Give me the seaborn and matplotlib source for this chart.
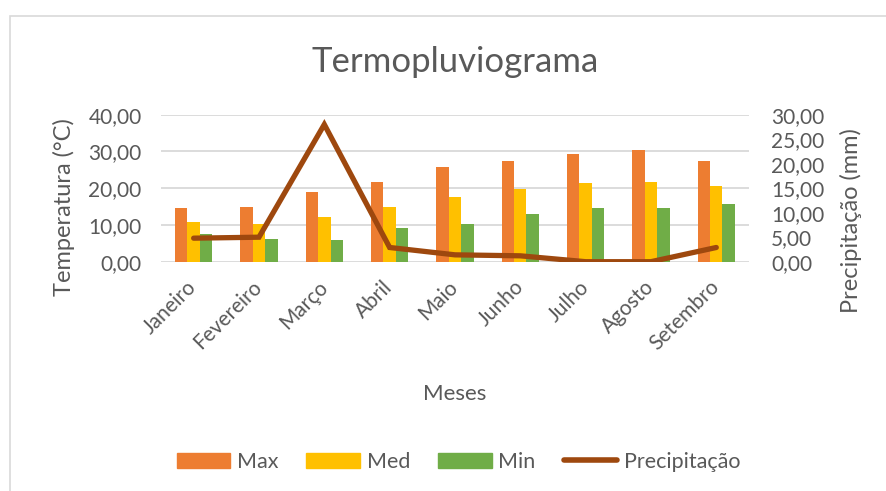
import matplotlib.pyplot as plt
import numpy as np
import pandas as pd
import seaborn as sns

meses = ["Janeiro", "Fevereiro", "Março", "Abril", "Maio", "Junho", "Julho", "Agosto", "Setembro"]
t_max = [14.6, 14.8, 19.0, 21.7, 25.8, 27.4, 29.4, 30.5, 27.5]
t_med = [10.7, 10.3, 12.1, 14.8, 17.6, 19.8, 21.5, 21.7, 20.6]
t_min = [7.5, 6.1, 6.0, 9.3, 10.3, 13.0, 14.5, 14.5, 15.7]
precip = [4.8, 5.0, 28.0, 2.9, 1.4, 1.2, 0.0, 0.0, 2.9]

cores = {"Max": "#ED7D31", "Med": "#FFC000", "Min": "#70AD47"}
cor_linha = "#9E480E"
cinza = "#595959"

df = pd.DataFrame({"Mes": meses, "Max": t_max, "Med": t_med, "Min": t_min})
df_long = df.melt(id_vars="Mes", var_name="Serie", value_name="Temp")

sns.set_style("white")
plt.rcParams["font.family"] = ["Lato", "DejaVu Sans"]

fig = plt.figure(figsize=(8.86, 4.91), dpi=100)
ax = fig.add_axes([0.1817, 0.467, 0.6636, 0.2995])

sns.barplot(data=df_long, x="Mes", y="Temp", hue="Serie", palette=cores,
            width=0.57, ax=ax, legend=False, saturation=1, linewidth=0)

ax.set_ylim(0, 40)
ax.set_yticks(np.arange(0, 41, 10))
ax.set_yticklabels([f"{v:.2f}".replace(".", ",") for v in np.arange(0, 41, 10)])
ax.set_xlim(-0.5, len(meses) - 0.5)
ax.grid(axis="y", color="#D9D9D9", linewidth=1.3)
ax.set_axisbelow(True)
for s in ax.spines.values():
    s.set_visible(False)
ax.tick_params(axis="both", length=0, colors=cinza, labelsize=15)
ax.tick_params(axis="y", pad=14)
ax.tick_params(axis="x", pad=16)
plt.setp(ax.get_xticklabels(), rotation=45, ha="right", va="center", rotation_mode="anchor")
ax.set_xlabel("Meses", fontsize=16, color=cinza)
ax.xaxis.set_label_coords(0.5, -0.9)
ax.xaxis.label.set_va("center")
ax.set_ylabel("Temperatura (°C)", fontsize=17, color=cinza)
ax.yaxis.set_label_coords(-0.165, 0.37)
ax.yaxis.label.set_va("center")

ax2 = ax.twinx()
sns.lineplot(x=np.arange(len(meses)), y=precip, ax=ax2, color=cor_linha,
             linewidth=3.8, solid_capstyle="round", solid_joinstyle="miter")
ax2.set_ylim(0, 30)
ax2.set_yticks(np.arange(0, 31, 5))
ax2.set_yticklabels([f"{v:.2f}".replace(".", ",") for v in np.arange(0, 31, 5)])
for s in ax2.spines.values():
    s.set_visible(False)
ax2.tick_params(axis="y", length=0, colors=cinza, labelsize=15, pad=16)
ax2.set_ylabel("Precipitação (mm)", fontsize=17, color=cinza)
ax2.yaxis.set_label_coords(1.173, 0.28)
ax2.yaxis.label.set_va("center")
ax2.grid(False)

fig.text(0.514, 0.874, "Termopluviograma", ha="center", va="center",
         fontsize=25, color=cinza)

handles = [plt.Rectangle((0, 0), 1, 1, color=cores[k]) for k in ["Max", "Med", "Min"]]
handles.append(plt.Line2D([0], [0], color=cor_linha, linewidth=4, solid_capstyle="round"))
fig.legend(handles, ["Max", "Med", "Min", "Precipitação"], loc="center",
           bbox_to_anchor=(0.5175, 0.059), ncol=4, frameon=False, fontsize=15.5,
           labelcolor=cinza, handlelength=2.5, handleheight=0.75,
           handletextpad=0.3, columnspacing=1.3)

fig.add_artist(plt.Rectangle((0.0113, -0.05), 1.1, 1.017, transform=fig.transFigure,
                             fill=False, edgecolor="#D9D9D9", linewidth=1.2))

fig.savefig("out.png", dpi=100)
